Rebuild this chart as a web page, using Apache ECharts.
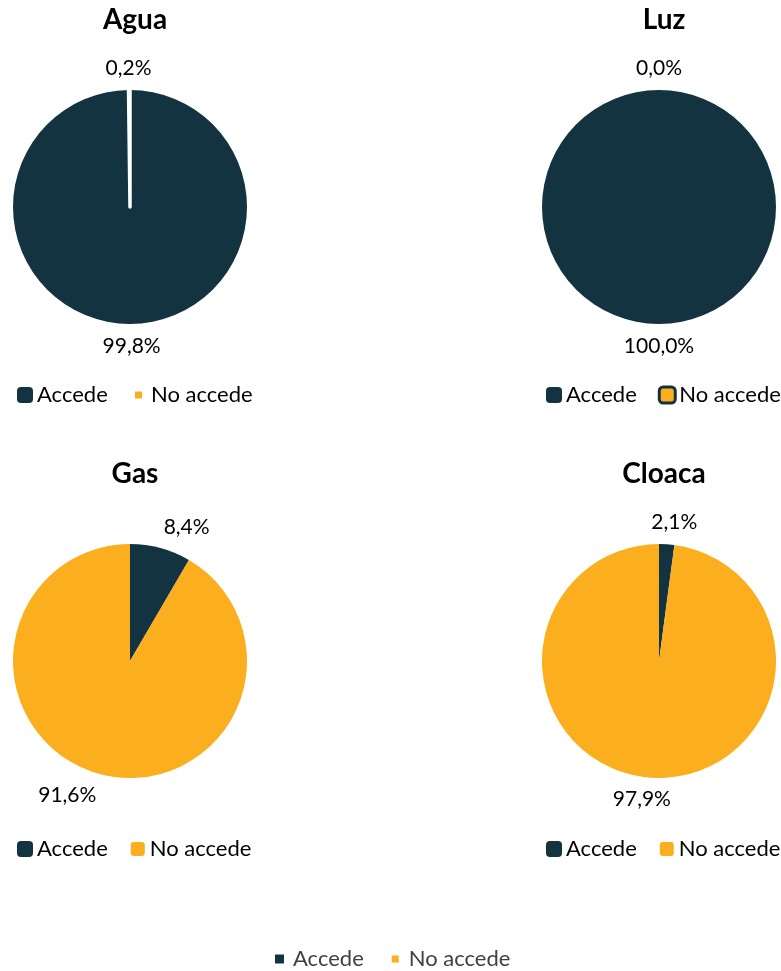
<!DOCTYPE html>
<html>
<head>
<meta charset="utf-8">
<script src="https://cdn.jsdelivr.net/npm/echarts@6/dist/echarts.min.js"></script>
<style>
html,body{margin:0;padding:0;background:#fff;}
#chart{width:781px;height:971px;}
</style>
</head>
<body>
<div id="chart"></div>
<script>
// ---- data ----
const categories = ['Accede', 'No accede'];
const pieTitles = ['Agua', 'Luz', 'Gas', 'Cloaca'];
const accedeValues = [99.8, 100.0, 8.4, 2.1];
const noAccedeValues = [0.2, 0.0, 91.6, 97.9];

// ---- layout / style ----
const NAVY = '#12333F';
const ORANGE = '#FBAE1E';
const FONT = 'Lato';
const centers = [[130, 207], [659, 207], [130, 661], [659, 661]];
const R = 117;
const LABEL_GAP = 12;

function fmt(v) { return v.toFixed(1).replace('.', ',') + '%'; }

const chart = echarts.init(document.getElementById('chart'), null, { renderer: 'canvas' });

const titles = pieTitles.map((t, s) => ({
  text: t,
  left: centers[s][0],
  top: centers[s][1] - 206,
  textAlign: 'center',
  textStyle: { fontFamily: FONT, fontWeight: 'bold', fontSize: 28, color: '#000' }
}));

const series = pieTitles.map((t, s) => {
  const vals = [accedeValues[s], noAccedeValues[s]];
  return {
    type: 'pie',
    name: t,
    center: centers[s],
    radius: R,
    startAngle: 90,
    clockwise: true,
    avoidLabelOverlap: false,
    silent: true,
    label: {
      show: true,
      position: 'outside',
      formatter: p => fmt(p.value),
      fontFamily: FONT,
      fontSize: 21,
      color: '#000'
    },
    labelLine: { show: false },
    labelLayout: function (params) {
      const total = vals[0] + vals[1];
      const before = params.dataIndex === 0 ? 0 : vals[0];
      const mid = (before + vals[params.dataIndex] / 2) / total * Math.PI * 2;
      const sn = Math.sin(mid), cs = Math.cos(mid);
      const w = params.labelRect.width, h = 20;
      const px = centers[s][0] + (R + LABEL_GAP) * sn;
      const py = centers[s][1] - (R + LABEL_GAP) * cs;
      const f = Math.max(-1, Math.min(1, sn * 4.5));
      return { x: px + w / 2 * f, y: py - h / 2 * cs, align: 'center', verticalAlign: 'middle' };
    },
    data: categories.map((c, i) => {
      const d = { name: c, value: vals[i], itemStyle: { color: i === 0 ? NAVY : ORANGE } };
      if (s === 0 && i === 1) {
        d.itemStyle = { color: '#FFFFFF', borderColor: '#FFFFFF', borderWidth: 3.5, borderJoin: 'round' };
      }
      return d;
    })
  };
});

const legendText = { fontFamily: FONT, fontSize: 22, color: '#000', padding: [0, 0, 0, -1] };
function bigLegend(left, top, noAccedeStyle) {
  return {
    left: left, top: top, width: 300, orient: 'horizontal', padding: 0,
    itemWidth: 16, itemHeight: 16, itemGap: 21, icon: 'roundRect',
    selectedMode: false, textStyle: legendText,
    data: [
      { name: 'Accede', itemStyle: { color: NAVY } },
      { name: 'No accede', itemStyle: noAccedeStyle }
    ]
  };
}

const legends = [
  // Agua
  {
    left: 17, top: 384, padding: 0, itemWidth: 16, itemHeight: 16, icon: 'roundRect',
    selectedMode: false, textStyle: legendText,
    data: [{ name: 'Accede', itemStyle: { color: NAVY } }]
  },
  {
    left: 133, top: 384, padding: 0, itemWidth: 9, itemHeight: 9, icon: 'rect',
    selectedMode: false, textStyle: Object.assign({}, legendText, { padding: [0, 0, 0, 3] }),
    data: [{ name: 'No accede', itemStyle: { color: ORANGE } }]
  },
  // Luz
  bigLegend(546, 384, { color: ORANGE, borderColor: NAVY, borderWidth: 3 }),
  // Gas
  bigLegend(17, 838, { color: ORANGE }),
  // Cloaca
  bigLegend(546, 838, { color: ORANGE }),
  // common bottom legend
  {
    left: 275, top: 948, padding: 0, itemWidth: 9, itemHeight: 9, icon: 'rect', itemGap: 26,
    selectedMode: false,
    textStyle: { fontFamily: FONT, fontSize: 22, color: '#404040', padding: [0, 0, 0, 4] },
    data: [
      { name: 'Accede', itemStyle: { color: NAVY } },
      { name: 'No accede', itemStyle: { color: ORANGE } }
    ]
  }
];

chart.setOption({
  animation: false,
  backgroundColor: '#ffffff',
  title: titles,
  legend: legends,
  series: series
});
</script>
</body>
</html>
